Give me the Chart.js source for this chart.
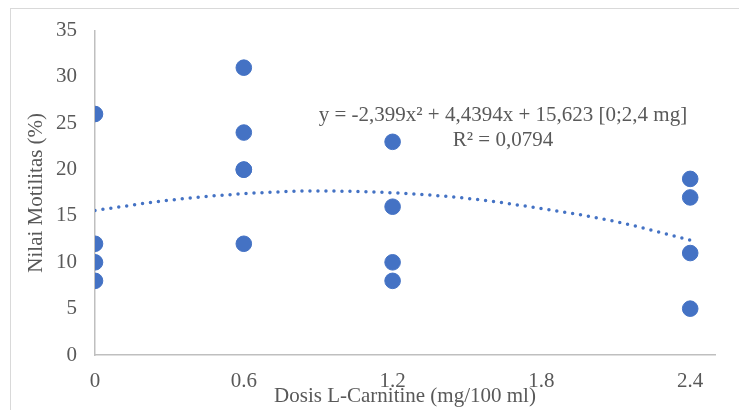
<!DOCTYPE html>
<html>
<head>
<meta charset="utf-8">
<script src="https://cdn.jsdelivr.net/npm/chart.js@4.4.0/dist/chart.umd.min.js"></script>
<style>
  body { margin: 0; background: #fff; }
  #wrap { position: relative; width: 739px; height: 410px; overflow: hidden; }
  #frame { position: absolute; left: 10px; top: 8px; width: 740px; height: 420px; border: 1px solid #d9d9d9; box-sizing: border-box; }
  canvas { position: absolute; left: 0; top: 0; }
</style>
</head>
<body>
<div id="wrap">
  <div id="frame"></div>
  <canvas id="chart" width="739" height="410"></canvas>
</div>
<script>
// dosis L-carnitine (mg/100 ml) dan nilai motilitas (%)
const doses = [0, 0, 0, 0, 0.6, 0.6, 0.6, 0.6, 0.6, 1.2, 1.2, 1.2, 1.2, 2.4, 2.4, 2.4, 2.4];
const motility = [26, 12, 10, 8, 31, 24, 20, 20, 12, 23, 16, 10, 8, 19, 17, 11, 5];

// trendline polinomial
const trendX = [0, 0.3, 0.6, 0.9, 1.2, 1.5, 1.8, 2.1, 2.4];
const trendY = [15.6, 16.7, 17.4, 17.7, 17.5, 16.9, 15.8, 14.4, 12.4];

const xTicks = [0, 0.6, 1.2, 1.8, 2.4];
const yTicks = [0, 5, 10, 15, 20, 25, 30, 35];

const eqLines = ["y = -2,399x\u00b2 + 4,4394x + 15,623 [0;2,4 mg]", "R\u00b2 = 0,0794"];

const blue = "#4472C4";
const textColor = "#595959";
const font = { family: "'Liberation Serif', 'Times New Roman', serif", size: 21 };
const titleFont = { family: "'Liberation Serif', 'Times New Roman', serif", size: 21, lineHeight: 1 };

const equationLabel = {
  id: "equationLabel",
  afterDatasetsDraw(chart) {
    const ctx = chart.ctx;
    const a = chart.chartArea;
    ctx.save();
    ctx.font = "21px 'Liberation Serif', serif";
    ctx.fillStyle = textColor;
    ctx.textAlign = "center";
    ctx.textBaseline = "middle";
    const cx = a.left + (a.right - a.left) * 0.658;
    ctx.fillText(eqLines[0], cx, 115);
    ctx.fillText(eqLines[1], cx, 140);
    ctx.restore();
  }
};

new Chart(document.getElementById("chart"), {
  type: "scatter",
  data: {
    datasets: [
      {
        label: "Motilitas",
        data: doses.map((d, i) => ({ x: d, y: motility[i] })),
        backgroundColor: blue,
        borderColor: blue,
        pointRadius: 7.8,
        pointHoverRadius: 7.8
      },
      {
        label: "Trend",
        type: "line",
        data: trendX.map((d, i) => ({ x: d, y: trendY[i] })),
        borderColor: blue,
        borderWidth: 3.5,
        borderDash: [0, 8],
        borderCapStyle: "round",
        pointRadius: 0,
        fill: false,
        cubicInterpolationMode: "monotone"
      }
    ]
  },
  options: {
    responsive: false,
    animation: false,
    events: [],
    layout: { padding: { left: 22, right: 24, top: 19, bottom: 0 } },
    plugins: { legend: { display: false }, tooltip: { enabled: false } },
    scales: {
      x: {
        type: "linear",
        min: 0,
        max: 2.5,
        afterBuildTicks: s => { s.ticks = xTicks.map(v => ({ value: v })); },
        afterFit: s => { s.height = 55; },
        ticks: { color: textColor, font, padding: 14, callback: v => v === 0 ? "0" : v.toFixed(1) },
        grid: { display: false, drawTicks: false },
        border: { color: "#bfbfbf", width: 1.5 },
        title: { display: true, text: "Dosis L-Carnitine (mg/100 ml)", color: textColor, font: titleFont, padding: { top: 3, bottom: 3 } }
      },
      y: {
        min: 0,
        max: 35,
        afterBuildTicks: s => { s.ticks = yTicks.map(v => ({ value: v })); },
        afterFit: s => { s.width = 73; },
        ticks: { color: textColor, font, padding: 18 },
        grid: { display: false, drawTicks: false },
        border: { color: "#bfbfbf", width: 1.5 },
        title: { display: true, text: "Nilai Motilitas (%)", color: textColor, font: titleFont, padding: { top: 4, bottom: 0 } }
      }
    }
  },
  plugins: [equationLabel]
});
</script>
</body>
</html>
